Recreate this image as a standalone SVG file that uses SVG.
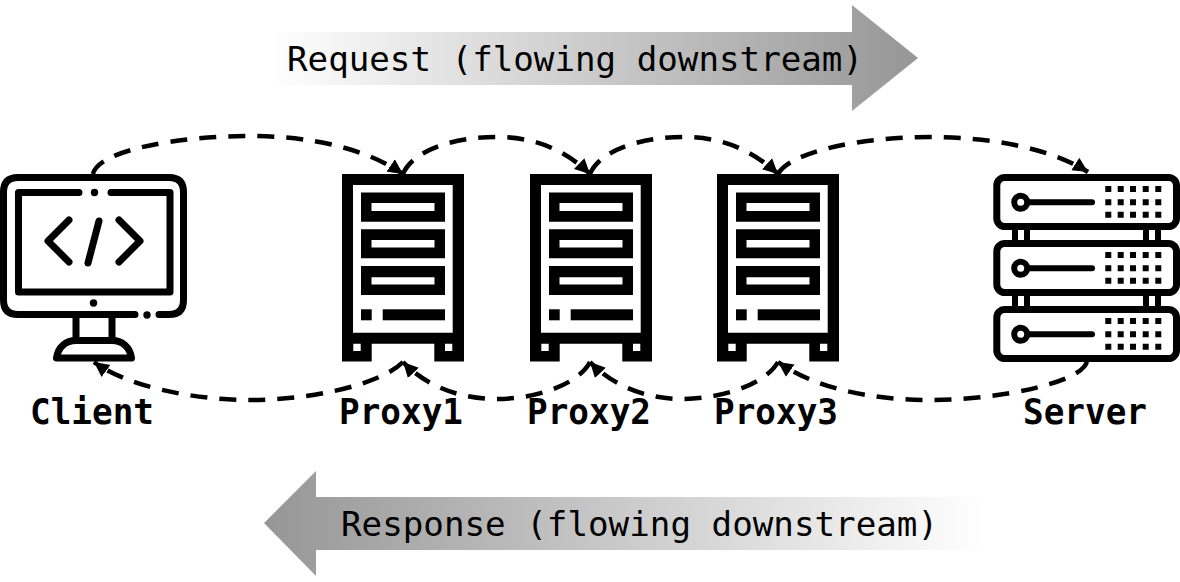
<svg xmlns="http://www.w3.org/2000/svg" xmlns:xlink="http://www.w3.org/1999/xlink" width="1180" height="582" viewBox="0 0 1180 582">
<style>
.t{font-family:"DejaVu Sans Mono","Liberation Mono",monospace;font-size:34px;fill:#000}
.b{font-weight:700;font-size:35px}
.ln{fill:none;stroke:#000;stroke-width:7;stroke-linecap:round;stroke-linejoin:round}
.k{fill:#000}
.w{fill:#fff}
.c{fill:none;stroke:#000;stroke-width:4.500;stroke-dasharray:17 12}
</style>
<defs>
<linearGradient id="gr" x1="270" x2="918" y1="0" y2="0" gradientUnits="userSpaceOnUse"><stop offset="0" stop-color="#fff"/><stop offset="1" stop-color="#969696"/></linearGradient>
<linearGradient id="gl" x1="264" x2="985" y1="0" y2="0" gradientUnits="userSpaceOnUse"><stop offset="0" stop-color="#969696"/><stop offset="1" stop-color="#fff"/></linearGradient>
<marker id="ah" markerUnits="userSpaceOnUse" markerWidth="16" markerHeight="16" refX="15" refY="8" orient="auto"><path d="M0,0.500 L15,8 L0,15.500 Z" fill="#000"/></marker>
<g id="rack">
<path class="k" fill-rule="evenodd" d="M342,174H464V361.500H434.300V343.700H371.700V361.500H342Z M353,185V332.700H452.700V185Z M353.300,343.700V351H360.700V343.700Z M445,343.700V351H452.300V343.700Z"/>
<path class="k" fill-rule="evenodd" d="M361,192.500H445V221.700H361Z M371.500,203V211H434.500V203Z M361,229.300H445V258.300H361Z M371.500,240V247.500H434.500V240Z M361,266H445V295H361Z M371.500,277.300V284.500H434.500V277.300Z"/>
<rect class="k" x="361" y="309.300" width="10.700" height="11"/>
<rect class="k" x="382.700" y="309.300" width="62.300" height="11"/>
</g>
<g id="unit">
<rect x="996.800" y="177.500" width="179.700" height="49" rx="8" class="ln"/>
<circle cx="1020.700" cy="202.300" r="6.500" fill="none" stroke="#000" stroke-width="6"/>
<path d="M1028,202.300H1092" fill="none" stroke="#000" stroke-width="6" stroke-linecap="round"/>
<path class="k" d="M1105.300,186h6v6h-6z M1117.700,186h6v6h-6z M1130,186h6v6h-6z M1142.700,186h6v6h-6z M1155.300,186h6v6h-6z M1105.300,199.300h6v6h-6z M1117.700,199.300h6v6h-6z M1130,199.300h6v6h-6z M1142.700,199.300h6v6h-6z M1155.300,199.300h6v6h-6z M1105.300,211.700h6v6h-6z M1117.700,211.700h6v6h-6z M1130,211.700h6v6h-6z M1142.700,211.700h6v6h-6z M1155.300,211.700h6v6h-6z"/>
</g>
</defs>

<g id="request-arrow">
<path fill="url(#gr)" d="M270,32H852V5L918,58L852,111V85H270Z"/>
<text class="t" x="287" y="71" textLength="576" lengthAdjust="spacingAndGlyphs">Request (flowing downstream)</text>
</g>
<g id="response-arrow">
<path fill="url(#gl)" d="M985,497H316V471L264,523L316,576V550H985Z"/>
<text class="t" x="341" y="536" textLength="597" lengthAdjust="spacingAndGlyphs">Response (flowing downstream)</text>
</g>

<g id="connectors">
<path class="c" marker-end="url(#ah)" d="M93,174C98,150 180,136 250,136C310,136 365,148 403,174"/>
<path class="c" marker-end="url(#ah)" d="M403,174C412,152 450,137 497,137C535,137 565,150 590,174"/>
<path class="c" marker-end="url(#ah)" d="M590,174C599,152 637,137 684,137C722,137 752,150 778,174"/>
<path class="c" marker-end="url(#ah)" d="M778,174C790,152 860,137 930,137C990,137 1050,148 1088,172"/>
<path class="c" marker-end="url(#ah)" d="M1087,361C1084,382 1000,400 930,400C870,400 815,388 778,362"/>
<path class="c" marker-end="url(#ah)" d="M778,362C765,385 720,399 682,399C645,399 612,385 590,362"/>
<path class="c" marker-end="url(#ah)" d="M590,362C578,385 535,399 497,399C458,399 425,385 403,362"/>
<path class="c" marker-end="url(#ah)" d="M403,362C380,385 310,400 250,400C190,400 125,385 94,362"/>
</g>

<g id="client">
<path class="ln" d="M135,314.500H18Q3.500,314.500 3.500,300V192Q3.500,177.500 18,177.500H169Q183.500,177.500 183.500,192V300Q183.500,314.500 169,314.500H159"/>
<circle class="k" cx="147" cy="315" r="3.700"/>
<path class="ln" d="M79,192.500H18.500V292H170V192.500H111"/>
<circle class="k" cx="94.500" cy="192.500" r="3.700"/>
<circle class="k" cx="93.500" cy="303" r="3.700"/>
<path class="ln" stroke-linecap="butt" d="M76,318V338M112,318V338"/>
<path class="ln" d="M56.500,358H131.500C130,347 122,340.500 112,340.500H76C66,340.500 58,347 56.500,358Z"/>
<path class="ln" stroke-width="6.500" d="M69,220L48,241L69,262M119,220L140,241L119,262M99,221L88,263"/>
<text class="t b" x="30" y="424" textLength="124" lengthAdjust="spacingAndGlyphs">Client</text>
</g>
<g id="proxy1">
<use xlink:href="#rack" href="#rack"/>
<text class="t b" x="339" y="424" textLength="124" lengthAdjust="spacingAndGlyphs">Proxy1</text>
</g>
<g id="proxy2">
<use xlink:href="#rack" href="#rack" x="188"/>
<text class="t b" x="527" y="424" textLength="124" lengthAdjust="spacingAndGlyphs">Proxy2</text>
</g>
<g id="proxy3">
<use xlink:href="#rack" href="#rack" x="375"/>
<text class="t b" x="714" y="424" textLength="124" lengthAdjust="spacingAndGlyphs">Proxy3</text>
</g>
<g id="server">
<path class="k" d="M1012,230h6v10h-6z M1024,230h6v10h-6z M1143,230h6v10h-6z M1155,230h6v10h-6z M1012,296h6v10h-6z M1024,296h6v10h-6z M1143,296h6v10h-6z M1155,296h6v10h-6z"/>
<use xlink:href="#unit" href="#unit"/>
<use xlink:href="#unit" href="#unit" y="66"/>
<use xlink:href="#unit" href="#unit" y="132"/>
<text class="t b" x="1023" y="424" textLength="124" lengthAdjust="spacingAndGlyphs">Server</text>
</g>
</svg>
